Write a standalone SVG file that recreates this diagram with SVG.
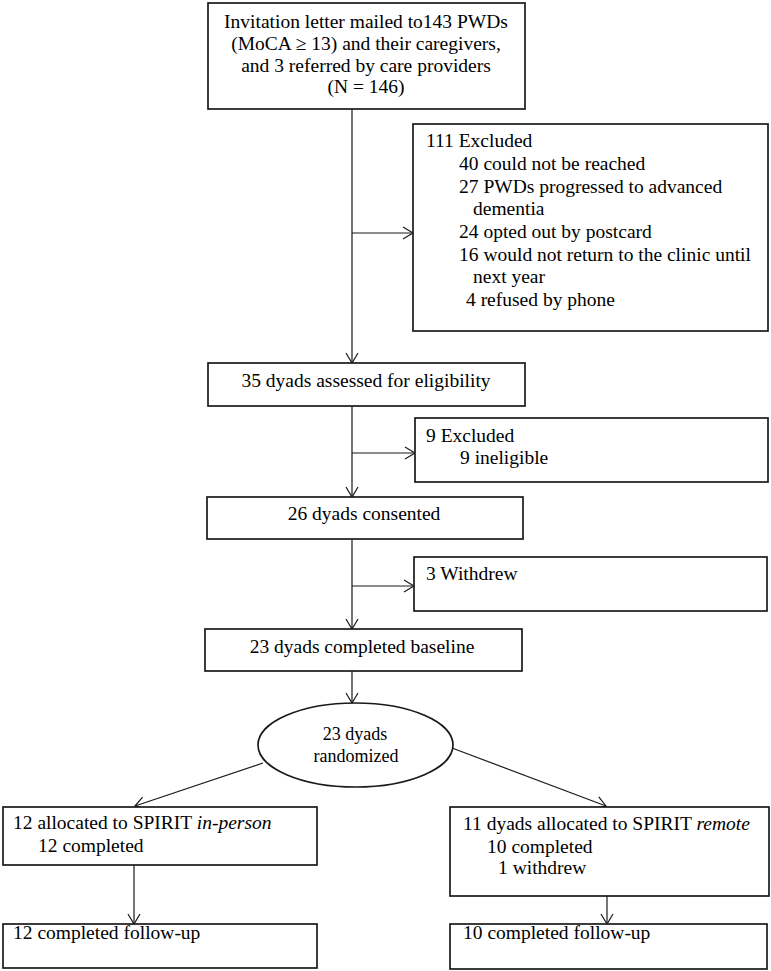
<svg xmlns="http://www.w3.org/2000/svg" width="771" height="971" viewBox="0 0 771 971">
<style>
.box{fill:#fff;stroke:#1a1a1a;stroke-width:1.7}
.t{font-family:"Liberation Serif","Times New Roman",serif;font-size:19.5px;fill:#000}
.c{text-anchor:middle}
.e{font-size:18px}
.ln{fill:none;stroke:#1a1a1a;stroke-width:1.2}
</style>
<defs>
<marker id="ah" markerUnits="userSpaceOnUse" markerWidth="14" markerHeight="16" refX="11" refY="7" orient="auto">
<path d="M1,1 L11,7 L1,13" fill="none" stroke="#1a1a1a" stroke-width="1.2"/>
</marker>
</defs>
<rect width="771" height="971" fill="#fff"/>
<g id="connectors">
<line class="ln" x1="352" y1="109" x2="352" y2="363" marker-end="url(#ah)"/>
<line class="ln" x1="352" y1="233" x2="413" y2="233" marker-end="url(#ah)"/>
<line class="ln" x1="352" y1="406" x2="352" y2="497" marker-end="url(#ah)"/>
<line class="ln" x1="352" y1="453" x2="415" y2="453" marker-end="url(#ah)"/>
<line class="ln" x1="352" y1="539" x2="352" y2="629" marker-end="url(#ah)"/>
<line class="ln" x1="352" y1="586" x2="414" y2="586" marker-end="url(#ah)"/>
<line class="ln" x1="352" y1="671" x2="352" y2="703" marker-end="url(#ah)"/>
<line class="ln" x1="263" y1="763" x2="135" y2="806" marker-end="url(#ah)"/>
<line class="ln" x1="452" y1="748" x2="606" y2="806" marker-end="url(#ah)"/>
<line class="ln" x1="134" y1="865" x2="134" y2="924" marker-end="url(#ah)"/>
<line class="ln" x1="607" y1="896" x2="607" y2="924" marker-end="url(#ah)"/>
</g>
<g id="invitation">
<rect class="box" x="208" y="3" width="317" height="106"/>
<text class="t c" x="366" y="28">Invitation letter mailed to143 PWDs</text>
<text class="t c" x="366" y="50">(MoCA ≥ 13) and their caregivers,</text>
<text class="t c" x="366" y="72">and 3 referred by care providers</text>
<text class="t c" x="366" y="93">(N = 146)</text>
</g>
<g id="excluded111">
<rect class="box" x="413" y="124" width="355" height="207"/>
<text class="t" x="426" y="147">111 Excluded</text>
<text class="t" x="459" y="170">40 could not be reached</text>
<text class="t" x="459" y="192.5">27 PWDs progressed to advanced</text>
<text class="t" x="473" y="215">dementia</text>
<text class="t" x="459" y="238">24 opted out by postcard</text>
<text class="t" x="459" y="260.5">16 would not return to the clinic until</text>
<text class="t" x="473" y="283">next year</text>
<text class="t" x="466" y="306">4 refused by phone</text>
</g>
<g id="assessed">
<rect class="box" x="208" y="363" width="317" height="43"/>
<text class="t c" x="366" y="387">35 dyads assessed for eligibility</text>
</g>
<g id="excluded9">
<rect class="box" x="415" y="418" width="353" height="64"/>
<text class="t" x="426" y="442">9 Excluded</text>
<text class="t" x="460" y="464">9 ineligible</text>
</g>
<g id="consented">
<rect class="box" x="207" y="497" width="316" height="42"/>
<text class="t c" x="364" y="520">26 dyads consented</text>
</g>
<g id="withdrew">
<rect class="box" x="414" y="557" width="353" height="54"/>
<text class="t" x="426" y="580">3 Withdrew</text>
</g>
<g id="baseline">
<rect class="box" x="205" y="629" width="317" height="42"/>
<text class="t c" x="362" y="653">23 dyads completed baseline</text>
</g>
<g id="randomized">
<ellipse class="box" cx="355.5" cy="745" rx="97.5" ry="42"/>
<text class="t e c" x="355" y="740">23 dyads</text>
<text class="t e c" x="356" y="762">randomized</text>
</g>
<g id="inperson">
<rect class="box" x="3" y="807" width="314" height="58"/>
<text class="t" x="13" y="829">12 allocated to SPIRIT <tspan font-style="italic">in-person</tspan></text>
<text class="t" x="38" y="852">12 completed</text>
</g>
<g id="remote">
<rect class="box" x="450" y="807" width="319" height="89"/>
<text class="t" x="463" y="830">11 dyads allocated to SPIRIT <tspan font-style="italic">remote</tspan></text>
<text class="t" x="487" y="853">10 completed</text>
<text class="t" x="498" y="874">1 withdrew</text>
</g>
<g id="followup-left">
<rect class="box" x="3" y="924" width="314" height="44"/>
<text class="t" x="13" y="939">12 completed follow-up</text>
</g>
<g id="followup-right">
<rect class="box" x="450" y="924" width="317" height="45"/>
<text class="t" x="463" y="939">10 completed follow-up</text>
</g>
</svg>
